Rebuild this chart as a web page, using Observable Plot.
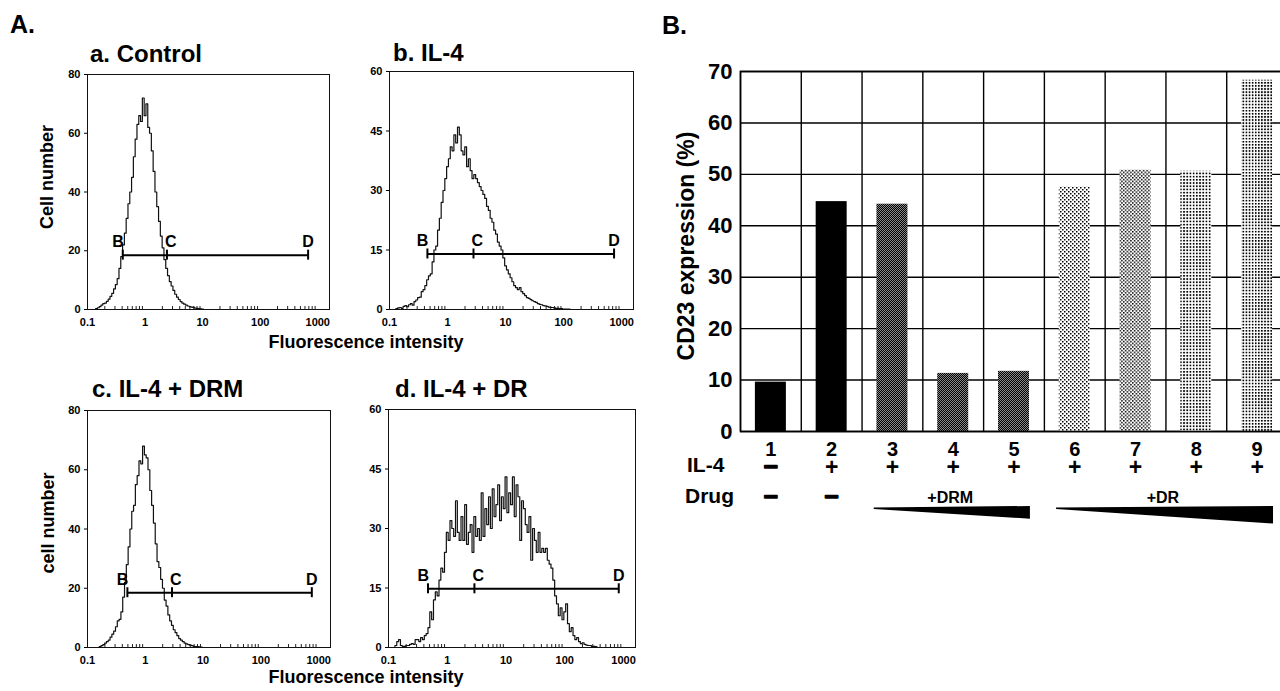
<!DOCTYPE html>
<html><head><meta charset="utf-8">
<script src="https://cdn.jsdelivr.net/npm/d3@7"></script>
<script src="https://cdn.jsdelivr.net/npm/@observablehq/plot@0.6"></script>
<style>
html,body{margin:0;padding:0;background:#fff;overflow:hidden;}
#page{position:relative;width:1280px;height:691px;overflow:hidden;background:#fff;}
.panel{position:absolute;}
.panel svg{max-width:none !important;}
</style></head><body>
<svg width="0" height="0" style="position:absolute"><defs>
<pattern id="pCross" patternUnits="userSpaceOnUse" width="2" height="2">
 <rect width="2" height="2" fill="#8a8a8a"/>
 <rect x="0" y="0" width="1" height="1" fill="#000"/>
 <rect x="1" y="1" width="1" height="1" fill="#000"/>
</pattern>
<pattern id="pHex1" patternUnits="userSpaceOnUse" width="4" height="4">
 <rect width="4" height="4" fill="#fff"/>
 <rect x="0" y="0" width="1.5" height="1.5" fill="#000"/>
 <rect x="2" y="2" width="1.5" height="1.5" fill="#000"/>
</pattern>
<pattern id="pHex2" patternUnits="userSpaceOnUse" width="3.6" height="3.6">
 <rect width="3.6" height="3.6" fill="#fff"/>
 <rect x="0" y="0" width="1.5" height="1.5" fill="#000"/>
 <rect x="1.8" y="1.8" width="1.5" height="1.5" fill="#000"/>
</pattern>
<pattern id="pGrid1" patternUnits="userSpaceOnUse" width="3.2" height="3.2">
 <rect width="3.2" height="3.2" fill="#fff"/>
 <rect x="0" y="0" width="1.7" height="1.7" fill="#000"/>
</pattern>
<pattern id="pGrid2" patternUnits="userSpaceOnUse" width="3.1" height="3.1">
 <rect width="3.1" height="3.1" fill="#fff"/>
 <rect x="0" y="0" width="1.7" height="1.7" fill="#000"/>
</pattern>
</defs></svg>
<div id="page"></div>
<script>
// ---------------- DATA ----------------
// Panel A: flow-cytometry histograms, counts per log channel (32 channels per decade, channel 0 = 0.1)
const binsPerDecade = 32;
const decadeTicks = [0.1, 1, 10, 100, 1000];
const countsA = [0,0,0,0,0,0.3,0.6,1,1.5,2,2.2,2.8,3.5,4.5,5.5,7,8.5,10.5,14,18,22,26,31,36,40,45,52,58,63,66,64,72,66,70,62,60,54,47,40,35,30,25,21,17,14,11.5,9.5,8,6.5,5.2,4.2,3.4,2.7,2.2,1.8,1.5,1.2,1,0.8,0.7,0.5,0.4,0.3,0.2,0.1,0];
const countsB = [0,0,0,0,0.2,0.4,0.5,0.3,0.8,1,0.7,1.2,1.5,1.1,2,2.4,3,3.1,4.5,5,6,7.5,8.5,9,12,15,16,20,23,27,30,33,36,38,41,40,44,42,46,44,40,39,41,36,38,35,33,34,33,32,31,30,29,28,26,25,23,22,20,19,17,16,15,13,11,10,9,8,7,6,5.5,5,5.5,4.5,4,3.5,3,2.8,2.5,2.2,2,1.8,1.5,1.3,1.2,1,0.9,0.8,0.6,0.5,0.5,0.4,0.3,0.3,0.2,0.2,0.1,0.1,0.1,0.1,0];
const countsC = [0,0,0,0,0,0,0,0.3,0.6,1,1.5,2,2.5,3.5,4.5,5.5,7,9,9.5,12,17,22,28,34,40,46,48,55,58,63,62,68,65,64,60,53,48,42,35,29,27,23,20,16,14,11,9,7.5,6,5,4,3,2.5,2,1.5,1.2,1,0.8,0.6,0.4,0.3,0.3,0.2,0.1,0];
const countsD = [0,0,0,0,0.5,1.5,2,0.5,0.3,0.3,0.5,0.5,0.8,1,0.8,2,2,1.5,2.5,2,3,3.5,5,9,7,12,14,13,17,20,19,24,29,27,32,30,28,37,29,27,33,27,36,26,29,31,24,33,28,30,27,39,28,35,31,38,30,40,33,36,41,32,38,35,43,34,39,36,43,33,41,38,27,37,35,31,29,33,22,30,27,24,29,24,25,24,25,22,21,20,17,13,11,8,10,7,9,11,6,4,5,3,2,2.5,1.5,1,1.2,0.8,0.6,0.5,0.5,0.3,0.3,0.2,0];
const panelTitles = ["a. Control", "b. IL-4", "c. IL-4 + DRM", "d. IL-4 + DR"];
const yMaxA = [80, 60, 80, 60];
const yTicksA = [[0,20,40,60,80],[0,15,30,45,60],[0,20,40,60,80],[0,15,30,45,60]];
const gateB = [0.41, 0.45, 0.49, 0.47];
const gateC = [2.4, 2.8, 2.9, 2.9];
const gateD = [680, 740, 760, 830];
const gateY = [18.5, 14, 18.5, 14.8];

// Panel B: CD23 expression (%)
const lanes = [1,2,3,4,5,6,7,8,9];
const cd23 = [9.6, 44.7, 44.2, 11.3, 11.7, 47.5, 50.8, 50.6, 68.3];
const il4 = ["−","+","+","+","+","+","+","+","+"];
const drug = ["−","−","","","","","","",""];
const drugGroups = [{label: "+DRM", from: 3, to: 5}, {label: "+DR", from: 6, to: 9}];
const yTicksB = [0,10,20,30,40,50,60,70];

// ---------------- RENDER ----------------
const FONT = '"Liberation Sans", Arial, Helvetica, sans-serif';
const page = document.getElementById("page");
const allCounts = [countsA, countsB, countsC, countsD];
const layout = [
  {left: 0,   top: 54,  fw: 242, fh: 235},
  {left: 302, top: 51,  fw: 244, fh: 238},
  {left: 0,   top: 390, fw: 243, fh: 237},
  {left: 301, top: 389, fw: 247, fh: 238}
];
const ML = 87, MR = 14, MT = 20, MB = 26;
const minorTicks = [];
for (const d of [0.1, 1, 10, 100]) for (let m = 2; m < 10; m++) minorTicks.push(+(d * m).toPrecision(3));

function place(node, left, top) {
  const div = document.createElement("div");
  div.className = "panel";
  div.style.left = left + "px";
  div.style.top = top + "px";
  div.appendChild(node);
  page.appendChild(div);
}

function histogram(k) {
  const pts = allCounts[k].map((c, i) => ({x: 0.1 * Math.pow(10, i / binsPerDecade), y: c}));
  const L = layout[k];
  const gy = gateY[k];
  const gate = [{name: "B", x: gateB[k]}, {name: "C", x: gateC[k]}, {name: "D", x: gateD[k]}];
  return Plot.plot({
    width: ML + L.fw + MR, height: MT + L.fh + MB,
    marginLeft: ML, marginRight: MR, marginTop: MT, marginBottom: MB,
    x: {type: "log", domain: [0.1, 1600], axis: null},
    y: {domain: [0, yMaxA[k]], axis: null},
    style: {fontFamily: FONT, fontWeight: "bold", fontSize: "10.5px", background: "transparent", overflow: "visible", color: "#000"},
    marks: [
      Plot.ruleX(minorTicks, {x: d => d, y1: () => 0, y2: () => 0, insetTop: -3, stroke: "#222", strokeWidth: 1}),
      Plot.axisX(decadeTicks, {tickSize: 0, tickPadding: 9, tickFormat: d => String(d), label: null, fontSize: 11}),
      Plot.axisY(yTicksA[k], {tickSize: 3, tickPadding: 4, label: null, fontSize: 11}),
      Plot.line(pts, {x: "x", y: "y", curve: "step", stroke: "#111", strokeWidth: 1.2}),
      Plot.frame({stroke: "#111", strokeWidth: 1}),
      Plot.ruleY([{x1: gateB[k], x2: gateD[k], y: gy}], {x1: "x1", x2: "x2", y: "y", strokeWidth: 2, stroke: "#000"}),
      Plot.ruleX(gate, {x: "x", y1: () => gy, y2: () => gy, insetTop: -5, insetBottom: -5, strokeWidth: 2, stroke: "#000"}),
      Plot.text(gate.filter(d => d.name === "B"), {x: "x", y: () => gy, text: "name", textAnchor: "end", dx: 1, dy: -8, lineAnchor: "bottom", fontSize: 16}),
      Plot.text(gate.filter(d => d.name === "C"), {x: "x", y: () => gy, text: "name", textAnchor: "start", dx: -2, dy: -8, lineAnchor: "bottom", fontSize: 16}),
      Plot.text(gate.filter(d => d.name === "D"), {x: "x", y: () => gy, text: "name", textAnchor: "middle", dy: -8, lineAnchor: "bottom", fontSize: 16})
    ]
  });
}
for (let k = 0; k < 4; k++) place(histogram(k), layout[k].left, layout[k].top);

// Panel B bar chart
const laneFill = {1: "#000", 2: "#000", 3: "url(#pCross)", 4: "url(#pCross)", 5: "url(#pCross)", 6: "url(#pHex1)", 7: "url(#pHex2)", 8: "url(#pGrid1)", 9: "url(#pGrid2)"};
const bars = lanes.map((l, i) => ({lane: l, value: cd23[i], il4: il4[i], drug: drug[i]}));
const cellEdges = lanes.map(l => l - 0.5).concat([lanes[lanes.length - 1] + 0.5]);
const barHalf = 0.255;
const wedgeMark = (index, scales, values, dims) => {
  const g = d3.create("svg:g");
  const base = dims.height - dims.marginBottom;
  for (const grp of drugGroups) {
    const x0 = scales.x(grp.from - 0.3), x1 = scales.x(grp.to + 0.27);
    const t = (x1 - x0) * 0.081;
    g.append("path")
      .attr("d", `M${x0},${base + 76.5}L${x1},${base + 75}L${x1},${base + 75 + t}L${x0},${base + 78}Z`)
      .attr("fill", "#000");
  }
  return g.node();
};
const plotB = Plot.plot({
  width: 597, height: 480,
  marginLeft: 40, marginRight: 10, marginTop: 20, marginBottom: 100,
  x: {domain: [0.5, 9.5], axis: null},
  y: {domain: [0, 70], axis: null},
  color: {type: "identity"},
  style: {fontFamily: FONT, fontWeight: "bold", fontSize: "21px", background: "transparent", overflow: "visible", color: "#000"},
  marks: [
    Plot.ruleY(yTicksB, {stroke: "#000", strokeWidth: 1.4}),
    Plot.ruleX(cellEdges, {stroke: "#000", strokeWidth: 1.4}),
    Plot.rectY(bars, {x1: d => d.lane - barHalf, x2: d => d.lane + barHalf, y: "value", fill: d => laneFill[d.lane]}),
    Plot.frame({stroke: "#000", strokeWidth: 1.6}),
    Plot.axisY(yTicksB, {tickSize: 0, tickPadding: 8, label: null, fontSize: 22}),
    Plot.text(bars, {x: "lane", text: d => String(d.lane), frameAnchor: "bottom", lineAnchor: "bottom", dy: 24, fontSize: 20}),
    Plot.text(bars.filter(d => d.il4 === "+"), {x: "lane", text: "il4", frameAnchor: "bottom", lineAnchor: "bottom", dy: 43.5, fontSize: 23}),
    Plot.text(bars.filter(d => d.il4 === "−"), {x: "lane", text: "il4", frameAnchor: "bottom", lineAnchor: "bottom", dy: 43.5, fontSize: 25, fill: "#000", stroke: "#000", strokeWidth: 1.3}),
    Plot.text(bars.filter(d => d.drug === "−"), {x: "lane", text: "drug", frameAnchor: "bottom", lineAnchor: "bottom", dy: 73.5, fontSize: 25, fill: "#000", stroke: "#000", strokeWidth: 1.3}),
    Plot.text(drugGroups, {x: d => (d.from + d.to) / 2 - 0.05, text: "label", frameAnchor: "bottom", lineAnchor: "bottom", dy: 71, fontSize: 16}),
    wedgeMark
  ]
});
place(plotB, 700, 51);

// Free text labels
const ann = d3.select(page).append("svg")
  .attr("width", 1280).attr("height", 691)
  .style("position", "absolute").style("left", "0px").style("top", "0px")
  .style("pointer-events", "none")
  .attr("font-family", FONT).attr("font-weight", "bold").attr("fill", "#000");
function label(x, y, txt, size, anchor = "start", rotate = 0) {
  const t = ann.append("text").attr("font-size", size).attr("text-anchor", anchor).text(txt);
  if (rotate) t.attr("transform", `translate(${x},${y}) rotate(${rotate})`);
  else t.attr("x", x).attr("y", y);
}
label(10, 33, "A.", 25);
label(662, 34, "B.", 25);
const titlePos = [[90, 62], [393, 61], [92, 397], [395, 397]];
panelTitles.forEach((t, k) => label(titlePos[k][0], titlePos[k][1], t, 24));
label(366, 348, "Fluorescence intensity", 18, "middle");
label(366, 683, "Fluorescence intensity", 18, "middle");
label(53, 177, "Cell number", 18, "middle", -90);
label(54, 523, "cell number", 18, "middle", -90);
label(694, 246, "CD23 expression (%)", 23, "middle", -90);
label(687, 472, "IL-4", 21);
label(685, 503, "Drug", 21);
</script></body></html>
